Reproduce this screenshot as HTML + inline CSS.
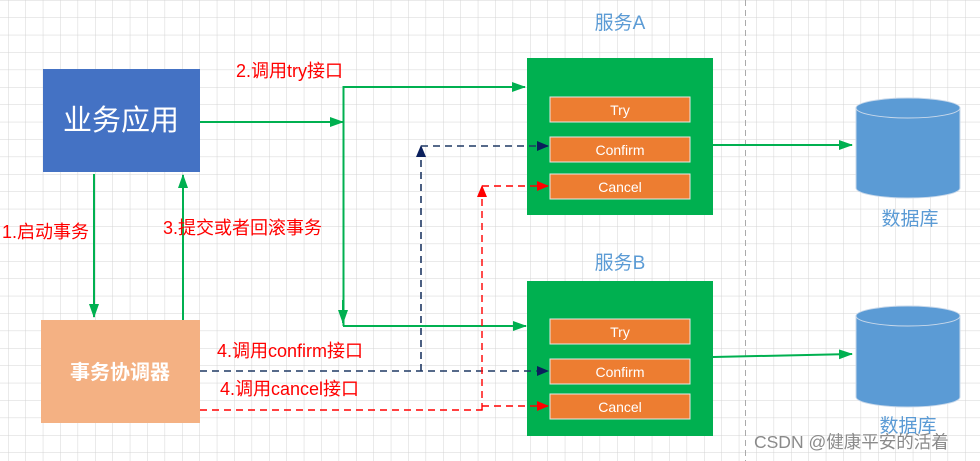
<!DOCTYPE html>
<html><head><meta charset="utf-8"><style>
html,body{margin:0;padding:0;background:#fff}
svg{display:block}
text{font-family:"Liberation Sans","Noto Sans CJK SC",sans-serif}
</style></head><body>
<svg width="980" height="461" xmlns="http://www.w3.org/2000/svg">
<defs>
<pattern id="g" width="17.4" height="17.4" patternUnits="userSpaceOnUse" x="8" y="0">
<path d="M0 0H17.4M0 0V17.4" fill="none" stroke="#d4d4d4" stroke-width="1"/>
</pattern>
<marker id="ag" markerWidth="14" markerHeight="10" refX="13" refY="5" orient="auto" markerUnits="userSpaceOnUse"><path d="M0 0L14 5L0 10Z" fill="#00B050"/></marker>
<marker id="an" markerWidth="12" markerHeight="10" refX="11" refY="5" orient="auto" markerUnits="userSpaceOnUse"><path d="M0 0L12 5L0 10Z" fill="#0a1f5c"/></marker>
<marker id="ar" markerWidth="12" markerHeight="10" refX="11" refY="5" orient="auto" markerUnits="userSpaceOnUse"><path d="M0 0L12 5L0 10Z" fill="#ff0000"/></marker>
</defs>
<rect width="980" height="461" fill="url(#g)"/>
<line x1="745.5" y1="0" x2="745.5" y2="461" stroke="#aaa" stroke-dasharray="6,4"/>

<rect x="43" y="69" width="157" height="103" fill="#4472C4"/>
<text x="121" y="130" font-size="29" fill="#fff" text-anchor="middle">业务应用</text>
<rect x="41" y="320" width="159" height="103" fill="#F4B183"/>
<text x="120" y="379" font-size="20" fill="#fff" text-anchor="middle" font-weight="bold">事务协调器</text>

<g stroke="#00B050" stroke-width="2" fill="none">
<line x1="94" y1="174" x2="94" y2="317" marker-end="url(#ag)"/>
<line x1="183" y1="320" x2="183" y2="175" marker-end="url(#ag)"/>
<line x1="200" y1="122" x2="343" y2="122" marker-end="url(#ag)"/>
<polyline points="525,87 343.5,87 343.5,326"/>
<line x1="343" y1="87" x2="525" y2="87" marker-end="url(#ag)"/>
<line x1="343" y1="300" x2="343" y2="323" marker-end="url(#ag)"/>
<line x1="343" y1="326" x2="526" y2="326" marker-end="url(#ag)"/>
<line x1="713" y1="145" x2="852" y2="145" marker-end="url(#ag)"/>
<line x1="713" y1="357" x2="852" y2="354" marker-end="url(#ag)"/>
</g>

<rect x="527" y="58" width="186" height="157" fill="#00B050"/>
<rect x="527" y="281" width="186" height="155" fill="#00B050"/>
<g fill="#ED7D31" stroke="#e6e6e6" stroke-width="1">
<rect x="550" y="97" width="140" height="25"/>
<rect x="550" y="137" width="140" height="25"/>
<rect x="550" y="174" width="140" height="25"/>
<rect x="550" y="319" width="140" height="25"/>
<rect x="550" y="359" width="140" height="25"/>
<rect x="550" y="394" width="140" height="25"/>
</g>
<g fill="#fff" font-size="14" text-anchor="middle">
<text x="620" y="115">Try</text>
<text x="620" y="155">Confirm</text>
<text x="620" y="192">Cancel</text>
<text x="620" y="337">Try</text>
<text x="620" y="377">Confirm</text>
<text x="620" y="412">Cancel</text>
</g>
<g fill="#5B9BD5" font-size="19" text-anchor="middle">
<text x="620" y="29">服务A</text>
<text x="620" y="269">服务B</text>
<text x="910" y="225">数据库</text>
<text x="908" y="432">数据库</text>
</g>

<g stroke="#1f3864" stroke-width="1.6" fill="none" stroke-dasharray="7,5">
<line x1="200" y1="371" x2="548" y2="371" marker-end="url(#an)"/>
<line x1="421" y1="371" x2="421" y2="146" marker-end="url(#an)"/>
<line x1="421" y1="146" x2="548" y2="146" marker-end="url(#an)"/>
</g>
<g stroke="#ff0000" stroke-width="1.4" fill="none" stroke-dasharray="7,5">
<polyline points="200,410 482,410 482,406"/>
<line x1="482" y1="406" x2="548" y2="406" marker-end="url(#ar)"/>
<line x1="482" y1="410" x2="482" y2="186" marker-end="url(#ar)"/>
<line x1="482" y1="186" x2="548" y2="186" marker-end="url(#ar)"/>
</g>

<g fill="#5B9BD5" stroke="#c8d8ea" stroke-width="1">
<path d="M856 108 V188 A52 10 0 0 0 960 188 V108 Z"/>
<ellipse cx="908" cy="108" rx="52" ry="10"/>
<path d="M856 316 V397 A52 10 0 0 0 960 397 V316 Z"/>
<ellipse cx="908" cy="316" rx="52" ry="10"/>
</g>

<g fill="#ff0000" font-size="18">
<text x="236" y="77">2.调用try接口</text>
<text x="2" y="238">1.启动事务</text>
<text x="163" y="234">3.提交或者回滚事务</text>
<text x="217" y="357">4.调用confirm接口</text>
<text x="220" y="395">4.调用cancel接口</text>
</g>
<text x="754" y="448" font-size="17.5" fill="#8a8a8a">CSDN @健康平安的活着</text>
</svg>
</body></html>
